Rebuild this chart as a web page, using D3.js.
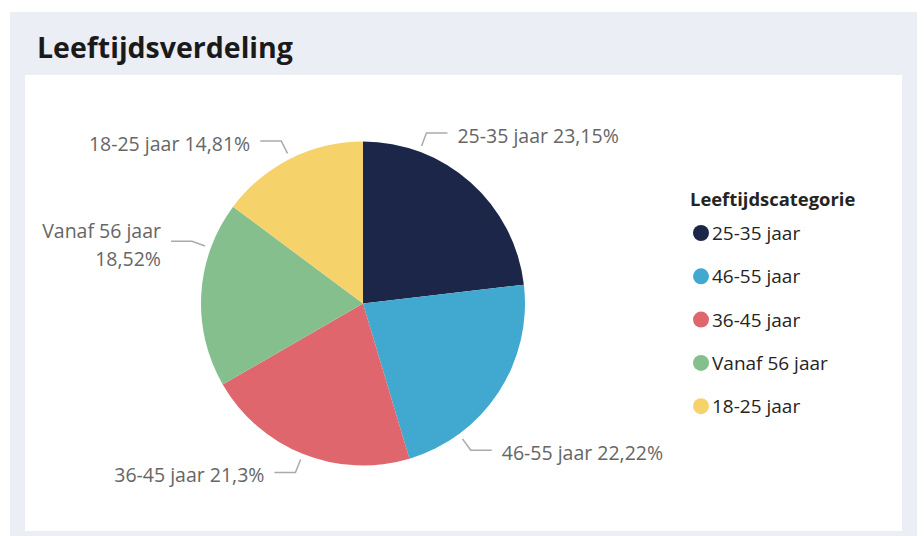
<!DOCTYPE html>
<html><head><meta charset="utf-8">
<script src="https://cdn.jsdelivr.net/npm/d3@7"></script>
<style>
html,body{margin:0;padding:0;background:#fff;}
svg{display:block;font-family:"Segoe UI","Open Sans","Noto Sans",sans-serif;}
</style></head>
<body>
<svg id="c" width="924" height="536"></svg>
<script>
// ---- data ----
const categories = ["25-35 jaar", "46-55 jaar", "36-45 jaar", "Vanaf 56 jaar", "18-25 jaar"];
const counts = [25, 24, 23, 20, 16];
const percentLabels = ["23,15%", "22,22%", "21,3%", "18,52%", "14,81%"];
const colors = ["#1B2649", "#41A8CF", "#E0666E", "#86BF8E", "#F6D26B"];
const chartTitle = "Leeftijdsverdeling";
const legendTitle = "Leeftijdscategorie";
// label leader-line anchor angles (degrees, clockwise from 12 o'clock)
const labelAngles = [20.4, 143.7, 201.8, 290, 333.3];

const svg = d3.select("#c");
// panel + card
svg.append("rect").attr("x",10).attr("y",12).attr("width",907).attr("height",524).attr("fill","#ECEEF6");
svg.append("rect").attr("x",25).attr("y",75).attr("width",877).attr("height",456).attr("fill","#FFFFFF");
svg.append("text").attr("x",37).attr("y",58).text(chartTitle)
  .attr("font-size",28.5).attr("font-weight",700).attr("fill","#1a1a1a");

const cx = 363, cy = 303.5, R = 162;
const pie = d3.pie().sort(null).value(d=>d.v);
const data = categories.map((c,i)=>({c, v:counts[i], p:percentLabels[i], col:colors[i], a:labelAngles[i]}));
const arcs = pie(data);
const arc = d3.arc().innerRadius(0).outerRadius(R);
const g = svg.append("g").attr("transform",`translate(${cx},${cy})`);
g.selectAll("path").data(arcs).join("path").attr("d",arc).attr("fill",d=>d.data.col);

// labels
const pt = (deg, r) => { const a = deg*Math.PI/180; return [Math.sin(a)*r, -Math.cos(a)*r]; };
arcs.forEach(d=>{
  const deg = d.data.a;
  const p0 = pt(deg, R+6), p1 = pt(deg, R+20);
  const right = Math.sin(deg*Math.PI/180) > 0;
  const p2 = [p1[0] + (right?21:-21), p1[1]];
  g.append("path").attr("d", d3.line()([p0,p1,p2]))
    .attr("fill","none").attr("stroke","#AAAAAA").attr("stroke-width",1.5);
  const tx = p2[0] + (right?10:-10);
  const t = g.append("text").attr("x",tx).attr("text-anchor", right?"start":"end")
    .attr("font-size",19.5).attr("fill","#666666");
  if (d.data.c === "Vanaf 56 jaar") {
    t.append("tspan").attr("x",tx).attr("y",p1[1]-11).attr("dominant-baseline","central").text(d.data.c);
    t.append("tspan").attr("x",tx).attr("y",p1[1]+17).attr("dominant-baseline","central").text(d.data.p);
  } else {
    t.attr("y",p1[1]+2.5).attr("dominant-baseline","central").text(d.data.c+" "+d.data.p);
  }
});

// legend
const lg = svg.append("g").attr("transform","translate(690,198)");
lg.append("text").attr("x",0).attr("y",0).attr("dominant-baseline","central")
  .attr("font-size",18.4).attr("font-weight",700).attr("fill","#252423").text(legendTitle);
const items = lg.selectAll("g.it").data(data).join("g").attr("class","it")
  .attr("transform",(d,i)=>`translate(0,${35 + i*43.3})`);
items.append("circle").attr("cx",11).attr("cy",0).attr("r",8).attr("fill",d=>d.col);
items.append("text").attr("x",22).attr("y",0).attr("dominant-baseline","central")
  .attr("font-size",19).attr("fill","#252423").text(d=>d.c);
</script>
</body></html>
